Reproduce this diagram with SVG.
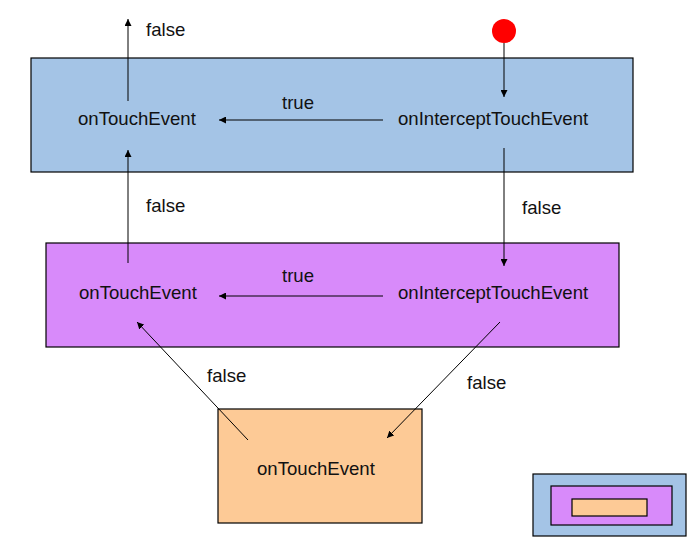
<svg xmlns="http://www.w3.org/2000/svg" width="693" height="546" viewBox="0 0 693 546">
<style>
text{font-family:"Liberation Sans",Arial,sans-serif;font-size:18.6px;fill:#111}
.box{stroke:#000;stroke-width:1.2}
.c{stroke:#000;stroke-width:1;fill:none}
</style>
<defs>
<marker id="ah" viewBox="0 0 10 10" refX="10" refY="5" markerWidth="7" markerHeight="7" markerUnits="userSpaceOnUse" orient="auto">
<path d="M0,0 L10,5 L0,10 z" fill="#000"/>
</marker>
</defs>
<rect width="693" height="546" fill="#fff"/>
<g id="outer">
<rect class="box" x="31" y="58" width="602" height="114" fill="#a4c4e6"/>
<text x="78" y="125">onTouchEvent</text>
<text x="398" y="125">onInterceptTouchEvent</text>
</g>
<g id="middle">
<rect class="box" x="46" y="243" width="573" height="104" fill="#d88afa"/>
<text x="79" y="299">onTouchEvent</text>
<text x="398" y="299">onInterceptTouchEvent</text>
</g>
<g id="inner">
<rect class="box" x="218" y="409" width="204" height="114" fill="#fdca96"/>
<text x="257" y="475">onTouchEvent</text>
</g>
<g id="start">
<circle cx="504" cy="31" r="12" fill="#ff0000"/>
</g>
<g id="legend">
<rect class="box" x="533" y="474" width="153" height="62" fill="#a4c4e6"/>
<rect class="box" x="551" y="486" width="121" height="39" fill="#d88afa"/>
<rect class="box" x="572" y="499" width="75" height="17" fill="#fdca96"/>
</g>
<g id="connectors">
<line class="c" x1="504" y1="43" x2="504" y2="97" marker-end="url(#ah)"/>
<line class="c" x1="128" y1="101" x2="128" y2="19" marker-end="url(#ah)"/>
<line class="c" x1="383" y1="120" x2="219" y2="120" marker-end="url(#ah)"/>
<line class="c" x1="128" y1="263" x2="128" y2="150" marker-end="url(#ah)"/>
<line class="c" x1="504" y1="148" x2="504" y2="266" marker-end="url(#ah)"/>
<line class="c" x1="383" y1="296" x2="219" y2="296" marker-end="url(#ah)"/>
<line class="c" x1="248" y1="440" x2="137" y2="322" marker-end="url(#ah)"/>
<line class="c" x1="500" y1="322" x2="387" y2="438" marker-end="url(#ah)"/>
<text x="146" y="36">false</text>
<text x="282" y="109">true</text>
<text x="146" y="212">false</text>
<text x="522" y="214">false</text>
<text x="282" y="282">true</text>
<text x="207" y="382">false</text>
<text x="467" y="389">false</text>
</g>
</svg>
